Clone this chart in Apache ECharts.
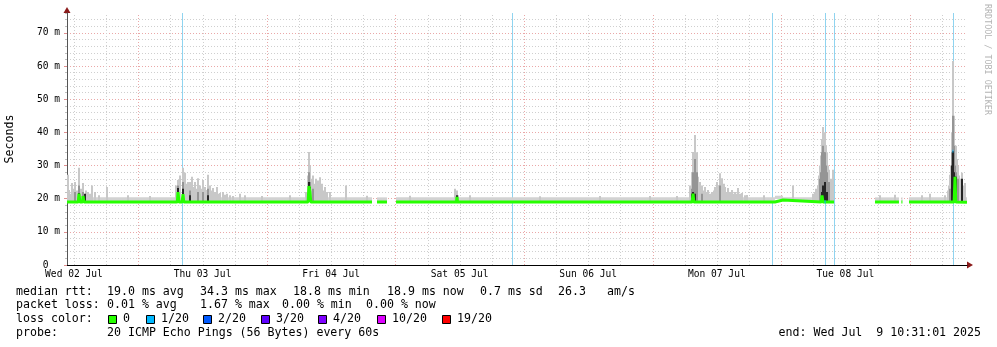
<!DOCTYPE html>
<html><head><meta charset="utf-8">
<script src="https://cdn.jsdelivr.net/npm/echarts@6/dist/echarts.min.js"></script>
<style>html,body{margin:0;padding:0;background:#fff}#c{width:997px;height:347px}</style>
</head><body><div id="c"></div>
<script>
// ---- data (time in hours since Wed 02 Jul 00:00, values in ms) ----
const timeStart = 10.7, timeEnd = 178.7;
const yMax = 76;
const xLabelHours = [12, 36, 60, 84, 108, 132, 156];
const xLabels = ['Wed 02 Jul', 'Thu 03 Jul', 'Fri 04 Jul', 'Sat 05 Jul', 'Sun 06 Jul', 'Mon 07 Jul', 'Tue 08 Jul'];
const gridMinorHours = [12, 18, 30, 36, 42, 54, 60, 66, 78, 84, 90, 102, 108, 114, 126, 132, 138, 150, 156, 162, 174];
const gridMajorHours = [24, 48, 72, 96, 120, 144, 168];
const medianBase = 19.0;
const lossEventHours = [32.17, 93.77, 142.3, 152.2, 153.88, 176.09];

const medianPts = [
  [10.7, 19.0], [12.8, 19.0], [12.94, 21.5], [13.1, 19.0], [13.6, 19.0], [13.69, 20.8], [13.85, 19.0],
  [31.3, 19.0], [31.42, 22.0], [31.6, 19.0], [32.2, 19.0], [32.35, 21.4], [32.5, 19.0],
  [55.7, 19.0], [55.87, 23.8], [56.06, 22.0], [56.2, 19.0],
  [67.63, 19.0], [67.7, null],
  [68.57, 19.0], [70.43, 19.0], [70.5, null],
  [72.12, 19.0], [83.4, 19.0], [83.5, 20.5], [83.6, 19.0],
  [127.4, 19.0], [127.56, 21.5], [127.7, 19.0],
  [142.84, 19.0], [142.86, 19.6], [144.36, 19.6], [144.38, 19.0],
  [151.5, 19.0], [151.64, 21.0], [151.8, 19.0], [153.88, 19.0], [153.95, null],
  [161.53, 19.0], [166.0, 19.0], [166.1, null],
  [166.45, 19.0], [166.65, 19.0], [166.7, null],
  [167.88, 19.0], [176.3, 19.0], [176.46, 26.6], [176.6, 19.0], [178.7, 18.9]
];
const medianLossPts = [
  [152.1, 19.1], [152.3, 19.1], [152.35, null],
  [176.0, 34.3], [176.15, 34.3]
];
const bandSegs = [
  [10.7, 67.63, 19.3, 20.4],
  [68.57, 70.43, 19.3, 20.4],
  [72.12, 142.86, 19.3, 20.4],
  [142.86, 144.36, 19.9, 20.9],
  [144.36, 153.88, 19.3, 20.4],
  [161.53, 166.0, 19.3, 20.4],
  [166.45, 166.65, 19.3, 20.4],
  [167.88, 178.7, 19.3, 20.4]
];
const smokeLight = [
  [10.8, 27.2], [11.07, 22.6], [11.3, 21.5], [11.63, 24.7], [11.9, 23.0], [12.19, 25.0], [12.5, 22.5], [12.94, 29.3], [13.3, 23.0], [13.69, 24.7], [14.2, 22.5], [14.62, 22.0], [15.0, 21.5], [15.37, 24.0], [15.93, 22.0], [16.6, 21.0], [18.17, 23.5], [22.09, 21.0], [26.19, 20.8],
  [31.05, 24.0], [31.42, 25.6], [31.79, 27.0], [32.35, 29.3], [32.73, 27.8], [33.0, 24.5], [33.29, 25.0], [33.66, 25.0], [34.03, 26.6], [34.3, 23.5], [34.59, 25.0], [34.9, 23.0], [35.15, 26.2], [35.53, 24.0], [35.8, 23.0], [36.09, 25.6], [36.4, 23.5], [36.65, 22.6], [37.02, 27.2], [37.39, 24.0], [37.7, 22.5], [37.95, 23.2], [38.3, 22.0], [38.7, 23.5], [39.0, 21.5], [39.26, 21.7], [39.82, 22.0], [40.2, 21.2], [40.57, 21.5], [41.1, 21.0], [41.69, 20.8], [43.0, 21.5], [43.93, 21.0], [47.1, 20.8], [52.33, 21.0],
  [55.31, 22.0], [55.69, 27.0], [55.87, 34.1], [56.06, 30.0], [56.3, 26.0], [56.62, 27.0], [56.9, 24.5], [57.18, 26.0], [57.55, 25.5], [57.93, 26.5], [58.3, 24.5], [58.6, 22.5], [58.86, 23.5], [59.3, 22.0], [59.79, 22.0], [62.78, 24.0], [66.7, 20.9],
  [74.73, 20.9], [83.13, 23.0], [83.5, 22.5], [83.69, 21.0], [85.93, 21.0], [98.99, 20.7], [110.19, 20.8], [119.52, 20.8],
  [124.57, 20.8], [127.0, 24.0], [127.37, 28.0], [127.56, 34.1], [127.93, 39.2], [128.1, 33.0], [128.3, 34.0], [128.49, 26.6], [128.8, 25.0], [129.23, 24.0], [129.5, 22.5], [129.8, 23.5], [130.1, 22.0], [130.36, 22.6], [130.7, 21.5], [131.1, 22.0], [131.4, 22.5], [131.66, 23.5], [132.04, 25.0], [132.3, 24.0], [132.6, 27.7], [132.97, 26.2], [133.25, 24.5], [133.53, 23.5], [133.8, 22.0], [134.09, 23.2], [134.4, 22.0], [134.84, 22.6], [135.1, 21.5], [135.4, 22.0], [135.7, 21.5], [135.96, 23.2], [136.3, 21.5], [136.71, 21.7], [137.2, 21.0], [137.64, 21.1],
  [140.81, 21.0], [146.22, 24.0], [149.96, 21.5],
  [150.33, 22.0], [150.6, 23.0], [150.89, 24.0], [151.1, 27.0], [151.27, 30.0], [151.45, 33.0], [151.64, 38.0], [151.83, 41.6], [152.0, 39.0], [152.2, 40.0], [152.4, 36.0], [152.57, 34.0], [152.75, 30.0], [152.95, 28.7], [153.15, 26.0], [153.32, 25.0], [153.5, 26.0], [153.69, 28.7],
  [162.46, 21.0], [165.26, 21.2], [170.3, 21.0], [171.79, 21.5],
  [174.6, 21.0], [175.16, 22.5], [175.35, 24.0], [175.53, 27.2], [175.72, 30.0], [175.9, 40.0], [176.09, 61.5], [176.28, 45.0], [176.46, 36.0], [176.65, 36.0], [176.85, 32.0], [177.02, 30.0], [177.2, 27.0], [177.4, 25.0], [177.6, 26.0], [177.77, 27.8], [177.96, 23.5], [178.15, 24.0], [178.33, 24.7]
];
const smokeMid = [
  [12.19, 22.0], [12.94, 24.0], [13.69, 22.0],
  [31.42, 24.0], [32.35, 25.0], [33.66, 22.5], [35.15, 22.0], [36.09, 22.0], [37.02, 23.0],
  [55.87, 28.0], [56.06, 25.0], [56.62, 23.0],
  [127.37, 23.0], [127.56, 28.0], [127.93, 32.0], [128.3, 28.0], [129.23, 21.5], [132.6, 24.0],
  [151.27, 26.0], [151.45, 28.0], [151.64, 34.0], [151.83, 36.0], [152.0, 34.0], [152.2, 34.0], [152.4, 30.0], [152.57, 28.0], [152.95, 25.0],
  [175.53, 23.0], [175.9, 34.0], [176.09, 45.0], [176.28, 36.0], [176.46, 30.0], [176.65, 28.0], [177.02, 26.0], [177.77, 24.0]
];
const smokeDark = [
  [12.94, 21.7], [13.97, 21.5],
  [31.42, 23.2], [32.35, 23.0], [33.66, 21.0], [37.02, 21.0],
  [55.87, 25.0], [56.06, 23.5],
  [83.5, 21.0],
  [127.37, 21.5], [127.56, 22.0], [127.93, 21.5],
  [151.64, 22.0], [151.83, 24.0], [152.2, 25.0], [152.57, 22.0],
  [175.9, 30.0], [176.09, 34.3], [176.28, 28.0], [176.46, 26.6], [176.65, 26.6], [177.77, 26.0]
];
// legend texts, one list of fields per line
const legendFields = [
  ['median rtt:', '19.0 ms avg', '34.3 ms max', '18.8 ms min', '18.9 ms now', '0.7 ms sd', '26.3', 'am/s'],
  ['packet loss:', '0.01 % avg', '1.67 % max', '0.00 % min', '0.00 % now'],
  ['loss color:'],
  ['probe:', '20 ICMP Echo Pings (56 Bytes) every 60s']
];
const lossLabels = ['0', '1/20', '2/20', '3/20', '4/20', '10/20', '19/20'];
const lossColors = ['#26ff00', '#00b8ff', '#0059ff', '#5e00ff', '#7e00ff', '#dd00ff', '#ff0000'];
const endText = 'end: Wed Jul  9 10:31:01 2025';
const watermark = 'RRDTOOL / TOBI OETIKER';

// ---- layout / rendering ----
const MONO = '"DejaVu Sans Mono", monospace';
const legendFieldX = [
  [16, 107, 200, 293, 387, 480, 558, 607],
  [16, 107, 200, 282, 366],
  [16],
  [16, 107]
];
const legendY = [291.5, 305.3, 319, 332.8];
const swatchX = [108, 146, 203, 261, 318, 377, 442];

function vline(color, dash) {
  return function (params, api) {
    const a = api.coord([api.value(0), 0]);
    const b = api.coord([api.value(0), yMax]);
    const x = Math.round(a[0]) + 0.5;
    return { type: 'line', shape: { x1: x, y1: a[1], x2: x, y2: b[1] },
      style: { stroke: color, lineWidth: 1, lineDash: dash } };
  };
}
function spike(color) {
  return function (params, api) {
    const b = api.coord([api.value(0), medianBase]);
    const t = api.coord([api.value(0), api.value(1)]);
    const x = Math.round(b[0]) - 1;
    return { type: 'rect', shape: { x: x, y: t[1], width: 2, height: b[1] - t[1] }, style: { fill: color } };
  };
}
function bandRender(params, api) {
  const p0 = api.coord([api.value(0), api.value(3)]);
  const p1 = api.coord([api.value(1), api.value(2)]);
  return { type: 'rect', shape: { x: p0[0], y: p0[1], width: p1[0] - p0[0], height: p1[1] - p0[1] }, style: { fill: '#d2d2d2' } };
}
function txt(s, x, y, extra) {
  return Object.assign({ type: 'text', x: x, y: y, silent: true,
    style: Object.assign({ text: s, fontFamily: MONO, fontSize: 11.6, fill: '#000', verticalAlign: 'middle' }, extra || {}) });
}

const graphic = [];
legendFields.forEach((fields, i) => fields.forEach((s, j) => graphic.push(txt(s, legendFieldX[i][j], legendY[i]))));
lossLabels.forEach((s, i) => {
  graphic.push({ type: 'rect', silent: true, shape: { x: swatchX[i] + 0.5, y: 315.5, width: 8, height: 8 },
    style: { fill: lossColors[i], stroke: '#000', lineWidth: 1 } });
  graphic.push(txt(s, swatchX[i] + 15, legendY[2]));
});
graphic.push(txt(endText, 981, legendY[3], { align: 'right' }));
graphic.push({ type: 'text', x: 987, y: 4, rotation: -Math.PI / 2, silent: true,
  style: { text: watermark, fontFamily: MONO, fontSize: 8.4, fill: '#b4b4b4', align: 'left', verticalAlign: 'middle' } });

const chart = echarts.init(document.getElementById('c'), null, { renderer: 'canvas' });
chart.setOption({
  animation: false,
  backgroundColor: '#ffffff',
  grid: { left: 67, right: 30, top: 13, bottom: 82, containLabel: false, outerBoundsMode: 'none' },
  xAxis: [
    { type: 'value', min: timeStart, max: timeEnd, position: 'bottom', z: 1,
      axisLine: { show: true, onZero: false, lineStyle: { color: '#000', width: 1 } },
      axisTick: { show: false }, splitLine: { show: false },
      axisLabel: { customValues: xLabelHours, formatter: v => { const i = xLabelHours.indexOf(v); return i >= 0 ? xLabels[i] : ''; },
        fontFamily: MONO, fontSize: 9.6, color: '#000', margin: 4 } },
    { type: 'value', min: timeStart, max: timeEnd, position: 'bottom', offset: 0, z: 0,
      axisLine: { show: true, onZero: false, lineStyle: { color: '#8b1a1a', width: 1 }, symbol: ['none', 'triangle'], symbolSize: [7, 6], symbolOffset: [0, 3] },
      axisTick: { show: false }, axisLabel: { show: false }, splitLine: { show: false } }
  ],
  yAxis: [
    { type: 'value', min: 0, max: yMax, interval: 2, position: 'left', z: 1,
      axisLine: { show: true, onZero: false, lineStyle: { color: '#555' } },
      axisTick: { show: true, length: 2, lineStyle: { color: '#c0c0c0' } },
      axisLabel: { show: false },
      splitLine: { show: true, showMaxLine: false, lineStyle: { color: '#cfcfcf', type: [1, 2] } } },
    { type: 'value', min: 0, max: yMax, interval: 10, position: 'left', z: 1,
      axisLine: { show: false, onZero: false },
      axisTick: { show: true, length: 3, lineStyle: { color: '#e09090' } },
      axisLabel: { formatter: v => v === 0 ? '0  ' : (v % 10 === 0 ? v + ' m' : ''), fontFamily: MONO, fontSize: 9.6, color: '#000', margin: 7, showMaxLabel: false },
      splitLine: { show: true, showMaxLine: false, lineStyle: { color: '#eaa8a8', type: [1, 2] } },
      name: 'Seconds', nameLocation: 'middle', nameGap: 51, nameRotate: 90,
      nameTextStyle: { fontFamily: MONO, fontSize: 11.6, color: '#000' } },
    { type: 'value', min: 0, max: yMax, position: 'left', offset: 0, z: 0,
      axisLine: { show: true, onZero: false, lineStyle: { color: '#8b1a1a' }, symbol: ['none', 'triangle'], symbolSize: [7, 6], symbolOffset: [0, 3] },
      axisTick: { show: false }, axisLabel: { show: false }, splitLine: { show: false } }
  ],
  graphic: graphic,
  series: [
    { type: 'custom', name: 'gridMinor', z: 2, silent: true, clip: true, data: gridMinorHours.map(h => [h, 0]), encode: { x: 0, y: 1 }, renderItem: vline('#cfcfcf', [1, 2]) },
    { type: 'custom', name: 'gridMajor', z: 2, silent: true, clip: true, data: gridMajorHours.map(h => [h, 0]), encode: { x: 0, y: 1 }, renderItem: vline('#eaa8a8', [1, 2]) },
    { type: 'custom', name: 'lossEvents', z: 3, silent: true, clip: true, data: lossEventHours.map(h => [h, 0]), encode: { x: 0, y: 1 }, renderItem: vline('#8fd4f0', [0]) },
    { type: 'custom', name: 'band', z: 4, silent: true, clip: true, data: bandSegs, encode: { x: [0, 1], y: [2, 3] }, renderItem: bandRender },
    { type: 'custom', name: 'smokeLight', z: 5, silent: true, clip: true, data: smokeLight, encode: { x: 0, y: 1 }, renderItem: spike('#c8c8c8') },
    { type: 'custom', name: 'smokeMid', z: 6, silent: true, clip: true, data: smokeMid, encode: { x: 0, y: 1 }, renderItem: spike('#959595') },
    { type: 'custom', name: 'smokeDark', z: 7, silent: true, clip: true, data: smokeDark, encode: { x: 0, y: 1 }, renderItem: spike('#262626') },
    { type: 'line', name: 'median', z: 8, silent: true, data: medianPts, symbol: 'none', showSymbol: false, connectNulls: false, lineStyle: { color: '#26ff00', width: 3 } },
    { type: 'line', name: 'medianLoss', z: 9, silent: true, data: medianLossPts, symbol: 'none', showSymbol: false, connectNulls: false, lineStyle: { color: '#00b8ff', width: 3 } }
  ]
});
</script></body></html>
